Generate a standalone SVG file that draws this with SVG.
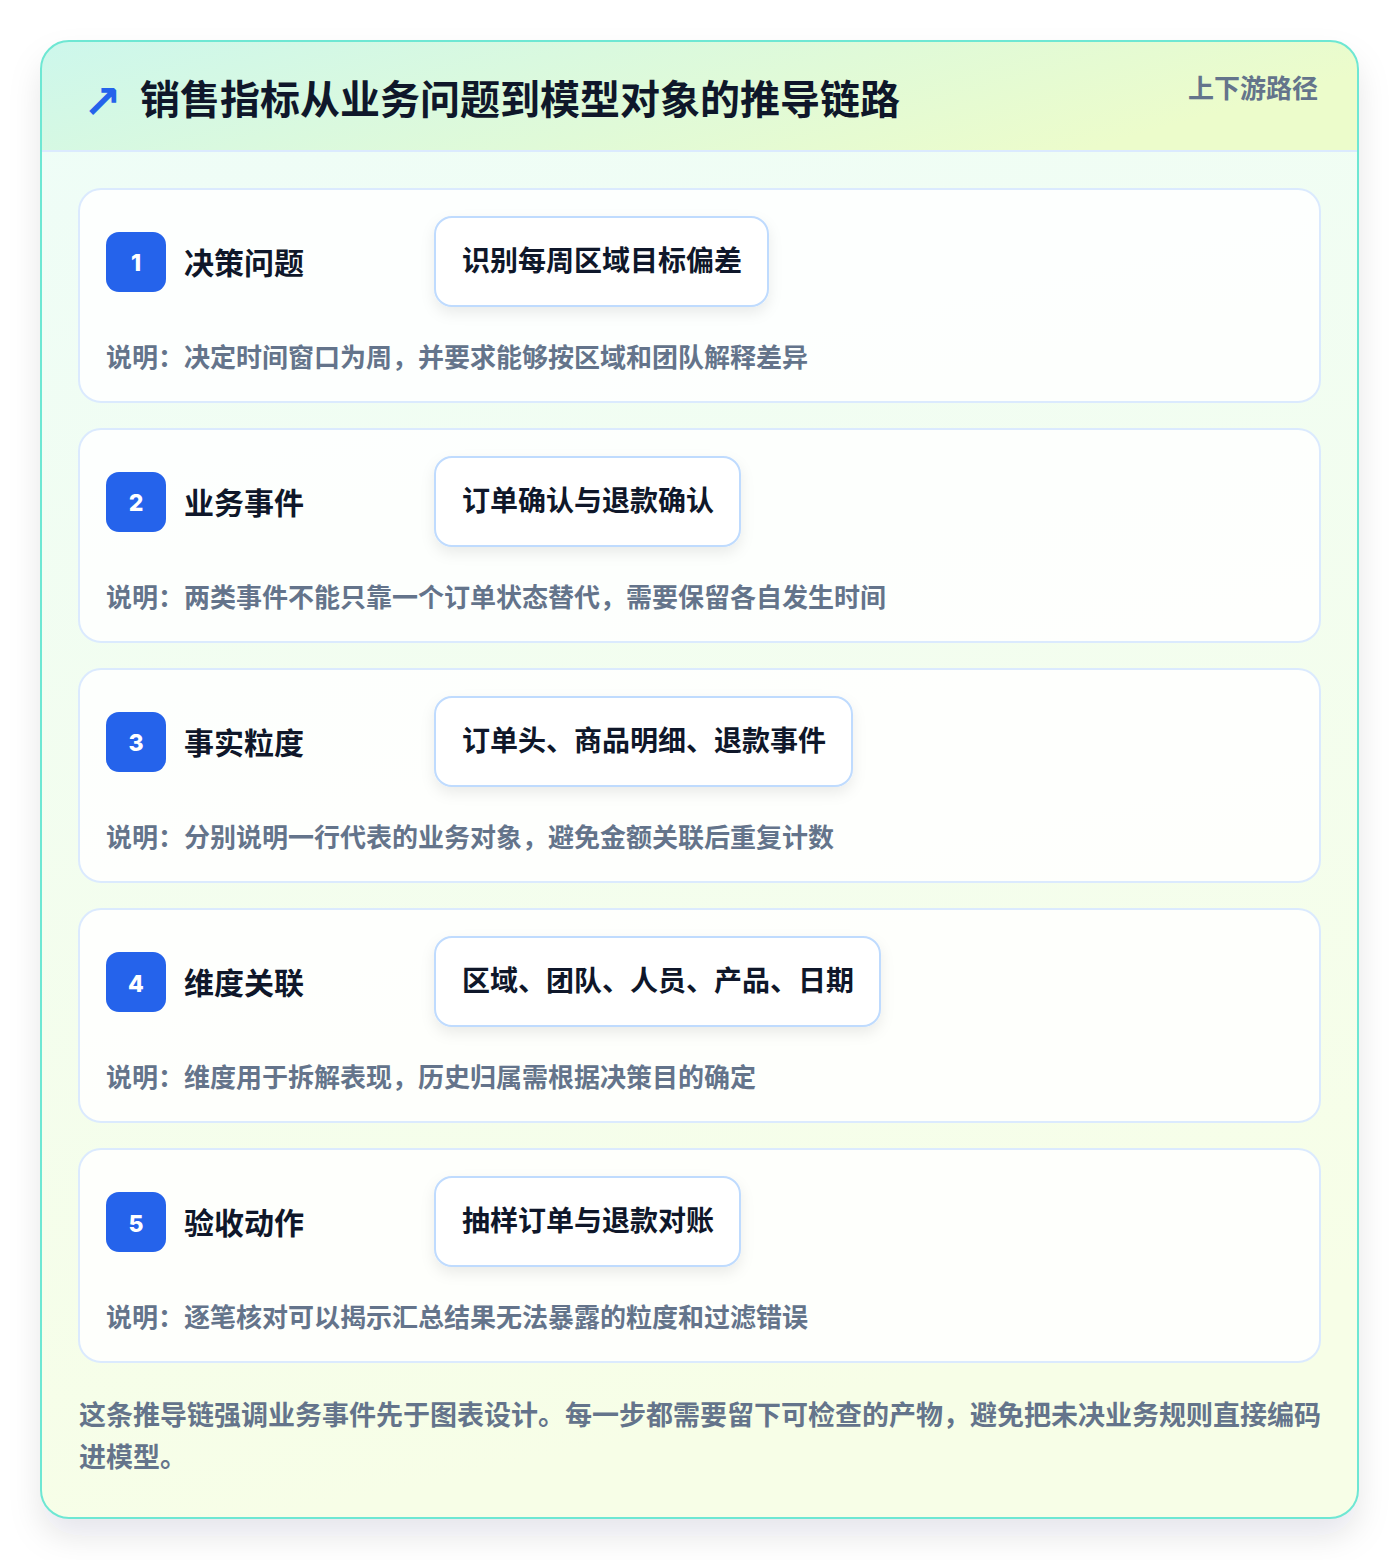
<svg xmlns="http://www.w3.org/2000/svg" width="1400" height="1560" viewBox="0 0 1400 1560">
<defs>
<linearGradient id="hdr" x1="0" y1="0" x2="1" y2="0.3">
<stop offset="0" stop-color="#cdf7ec"/>
<stop offset="1" stop-color="#ecfccb"/>
</linearGradient>
<linearGradient id="body" x1="0" y1="0" x2="0.2" y2="1">
<stop offset="0" stop-color="#eefdf8"/>
<stop offset="1" stop-color="#f7fee7"/>
</linearGradient>
<clipPath id="cardClip"><rect x="41" y="41" width="1317" height="1477" rx="28"/></clipPath>
<filter id="outer" x="-10%" y="-10%" width="120%" height="120%">
<feDropShadow dx="0" dy="18" stdDeviation="16" flood-color="#0f172a" flood-opacity="0.10"/>
</filter>
<filter id="boxsh" x="-20%" y="-30%" width="140%" height="170%">
<feDropShadow dx="0" dy="6" stdDeviation="7" flood-color="#0f172a" flood-opacity="0.08"/>
</filter>
<style>
text{font-family:"Noto Sans CJK SC","Noto Sans",sans-serif;font-weight:700}
.title{font-size:40px;fill:#0f172a}
.tag{font-size:26px;fill:#64748b}
.card{fill:#ffffff;fill-opacity:0.85;stroke:#dbeafe;stroke-width:2}
.badge{fill:#2563eb}
.num{font-family:Inter,"Liberation Sans",sans-serif;font-size:23px;font-weight:800;fill:#ffffff}
.label{font-size:30px;fill:#0f172a}
.vbox{fill:#ffffff;stroke:#bfdbfe;stroke-width:2}
.val{font-size:28px;fill:#0f172a}
.desc{font-size:26px;fill:#64748b}
.foot{font-size:27px;fill:#64748b}
.icon{font-family:"DejaVu Sans",sans-serif;font-size:46px;font-weight:700;fill:#2563eb}
</style>
</defs>
<rect width="1400" height="1560" fill="#ffffff"/>
<g id="panel">
<rect x="41" y="41" width="1317" height="1477" rx="28" fill="url(#body)" filter="url(#outer)"/>
<g clip-path="url(#cardClip)">
<rect x="41" y="41" width="1317" height="110" fill="url(#hdr)"/>
<line x1="41" y1="151" x2="1358" y2="151" stroke="#dbeafe" stroke-width="2"/>
</g>
<rect x="41" y="41" width="1317" height="1477" rx="28" fill="none" stroke="#6ee7d3" stroke-width="2"/>
</g>
<g id="header">
<text class="icon" x="83" y="118">↗</text>
<text class="title" x="140" y="114">销售指标从业务问题到模型对象的推导链路</text>
<text class="tag" x="1318" y="98" text-anchor="end">上下游路径</text>
</g>
<g id="step1">
<rect class="card" x="79" y="189" width="1241" height="213" rx="22"/>
<rect class="badge" x="106" y="232" width="60" height="60" rx="13"/>
<text class="num" x="136" y="271" text-anchor="middle">1</text>
<text class="label" x="184" y="274">决策问题</text>
<rect class="vbox" x="435" y="217" width="333" height="89" rx="17" filter="url(#boxsh)"/>
<text class="val" x="462" y="271">识别每周区域目标偏差</text>
<text class="desc" x="106" y="367">说明：决定时间窗口为周，并要求能够按区域和团队解释差异</text>
</g>
<g id="step2">
<rect class="card" x="79" y="429" width="1241" height="213" rx="22"/>
<rect class="badge" x="106" y="472" width="60" height="60" rx="13"/>
<text class="num" x="136" y="511" text-anchor="middle">2</text>
<text class="label" x="184" y="514">业务事件</text>
<rect class="vbox" x="435" y="457" width="305" height="89" rx="17" filter="url(#boxsh)"/>
<text class="val" x="462" y="511">订单确认与退款确认</text>
<text class="desc" x="106" y="607">说明：两类事件不能只靠一个订单状态替代，需要保留各自发生时间</text>
</g>
<g id="step3">
<rect class="card" x="79" y="669" width="1241" height="213" rx="22"/>
<rect class="badge" x="106" y="712" width="60" height="60" rx="13"/>
<text class="num" x="136" y="751" text-anchor="middle">3</text>
<text class="label" x="184" y="754">事实粒度</text>
<rect class="vbox" x="435" y="697" width="417" height="89" rx="17" filter="url(#boxsh)"/>
<text class="val" x="462" y="751">订单头、商品明细、退款事件</text>
<text class="desc" x="106" y="847">说明：分别说明一行代表的业务对象，避免金额关联后重复计数</text>
</g>
<g id="step4">
<rect class="card" x="79" y="909" width="1241" height="213" rx="22"/>
<rect class="badge" x="106" y="952" width="60" height="60" rx="13"/>
<text class="num" x="136" y="992" text-anchor="middle">4</text>
<text class="label" x="184" y="994">维度关联</text>
<rect class="vbox" x="435" y="937" width="445" height="89" rx="17" filter="url(#boxsh)"/>
<text class="val" x="462" y="991">区域、团队、人员、产品、日期</text>
<text class="desc" x="106" y="1087">说明：维度用于拆解表现，历史归属需根据决策目的确定</text>
</g>
<g id="step5">
<rect class="card" x="79" y="1149" width="1241" height="213" rx="22"/>
<rect class="badge" x="106" y="1192" width="60" height="60" rx="13"/>
<text class="num" x="136" y="1232" text-anchor="middle">5</text>
<text class="label" x="184" y="1234">验收动作</text>
<rect class="vbox" x="435" y="1177" width="305" height="89" rx="17" filter="url(#boxsh)"/>
<text class="val" x="462" y="1231">抽样订单与退款对账</text>
<text class="desc" x="106" y="1327">说明：逐笔核对可以揭示汇总结果无法暴露的粒度和过滤错误</text>
</g>
<g id="connectors"></g>
<g id="footer">
<text class="foot" x="79" y="1425">这条推导链强调业务事件先于图表设计。每一步都需要留下可检查的产物，避免把未决业务规则直接编码</text>
<text class="foot" x="79" y="1467">进模型。</text>
</g>
</svg>
